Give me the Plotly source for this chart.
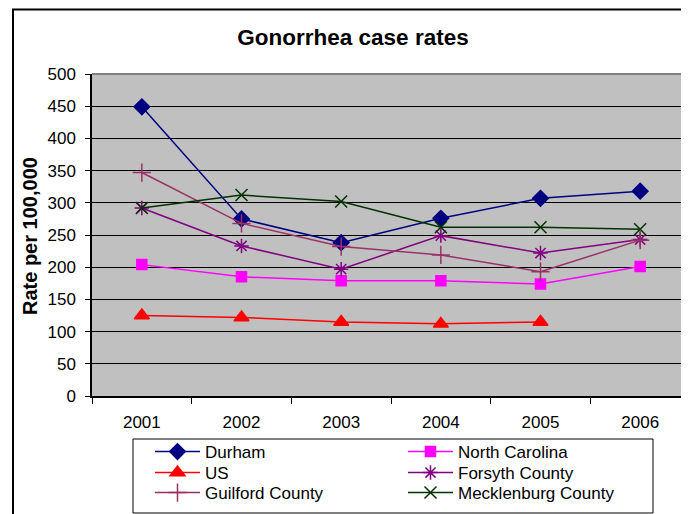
import plotly.graph_objects as go

# Gonorrhea case rates per 100,000, 2001-2006
years = ["2001", "2002", "2003", "2004", "2005", "2006"]
durham = [449, 275, 238, 276, 307, 318]
north_carolina = [204, 185, 179, 179, 174, 201]
us = [125, 122, 115, 112, 115, None]
forsyth = [292, 233, 197, 249, 222, 243]
guilford = [347, 268, 232, 219, 193, 242]
mecklenburg = [292, 312, 302, 262, 262, 259]

series = [
    ("Durham", durham, "#000080", "diamond", 12),
    ("North Carolina", north_carolina, "#FF00FF", "square", 10),
    ("US", us, "#FF0000", "triangle-up", 13),
    ("Forsyth County", forsyth, "#800080", "asterisk-open", 12),
    ("Guilford County", guilford, "#993366", "cross-thin-open", 13),
    ("Mecklenburg County", mecklenburg, "#003300", "x-thin-open", 12),
]

font = "Liberation Sans, Arial, sans-serif"

# the page adds an 8px body margin, so the figure is laid out 8px up/left
OFF = 8


# screen pixel -> paper helpers (plot area 92..690 x, 74..396 y on screen)
def px(x):
    return (x - 92) / 598


def py(y):
    return (396 - y) / 322


# one small legend per entry so the 2x3 grid can be placed like the original
legend_x = [150, 403]
legend_y = [452, 473, 493]

fig = go.Figure()
legends = {}
for i, (name, vals, color, sym, size) in enumerate(series):
    key = "legend" if i == 0 else f"legend{i + 1}"
    fig.add_trace(go.Scatter(
        x=years, y=vals, name=name, mode="lines+markers", legend=key,
        line=dict(color=color, width=1.5),
        marker=dict(symbol=sym, size=size, color=color,
                    line=dict(color=color, width=1.5)),
    ))
    legends[key] = dict(
        x=px(legend_x[i % 2]), y=py(legend_y[i // 2]),
        xanchor="left", yanchor="middle",
        borderwidth=0, bgcolor="rgba(0,0,0,0)",
        font=dict(size=17), itemwidth=45,
    )

fig.update_layout(
    width=689, height=514,
    margin=dict(l=92 - OFF, r=689 - (690 - OFF), t=74 - OFF, b=514 - (396 - OFF),
                autoexpand=False),
    paper_bgcolor="white",
    plot_bgcolor="#C0C0C0",
    font=dict(family=font, size=17, color="black"),
    title=dict(text="<b>Gonorrhea case rates</b>", x=(353 - OFF) / 689, xanchor="center",
               y=1 - (37 - OFF) / 514, yanchor="middle", font=dict(size=22.5)),
    showlegend=True,
    **legends,
)

fig.update_xaxes(
    type="category", range=[-0.5, 5.5], tickson="boundaries",
    ticks="outside", ticklen=6, tickcolor="black",
    showline=True, linecolor="black", linewidth=1.5,
    showgrid=False, ticklabelstandoff=10,
)
fig.update_yaxes(
    range=[0, 500], dtick=50, ticks="outside", ticklen=5, tickcolor="black",
    showline=True, linecolor="black", linewidth=1.5,
    showgrid=True, gridcolor="black", gridwidth=1,
    zeroline=False, ticklabelstandoff=6,
)

# y-axis title
fig.add_annotation(text="<b>Rate per 100,000</b>", xref="paper", yref="paper",
                   x=px(30), y=py(236), xanchor="center", yanchor="middle",
                   textangle=-90, showarrow=False, font=dict(size=20))

# plot area top border, legend box and outer chart border
fig.add_shape(type="line", xref="paper", yref="paper", x0=0, x1=1, y0=1, y1=1,
              line=dict(color="#808080", width=2))
fig.add_shape(type="rect", xref="paper", yref="paper",
              x0=px(133), x1=px(653), y0=py(513), y1=py(439),
              line=dict(color="black", width=1), fillcolor="white", layer="below")
fig.add_shape(type="rect", xref="paper", yref="paper",
              x0=px(13), x1=1.2, y0=-1, y1=py(9.5),
              line=dict(color="black", width=2))

fig.write_html("out.html")
